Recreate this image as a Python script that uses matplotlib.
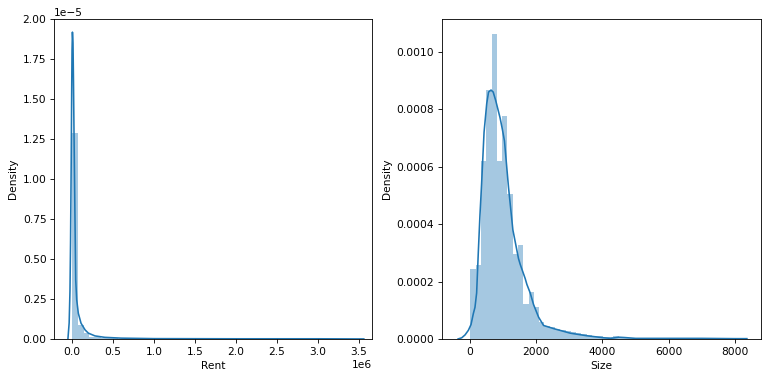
import matplotlib.pyplot as plt
import numpy as np

# Histogram of Rent (50 equal bins between the min and max value)
rent_range = (1200, 3500000)
rent_density = [1.285e-5, 8.8e-7, 3.6e-7, 1.5e-7, 1.0e-7, 6e-8, 4e-8, 3e-8, 2e-8, 2e-8,
                1e-8, 1e-8, 1e-8, 1e-8, 1e-8, 5e-9, 5e-9, 5e-9, 5e-9, 5e-9,
                3e-9, 3e-9, 3e-9, 3e-9, 3e-9, 2e-9, 2e-9, 2e-9, 2e-9, 2e-9,
                1e-9, 1e-9, 1e-9, 1e-9, 1e-9, 1e-9, 1e-9, 1e-9, 1e-9, 1e-9,
                1e-9, 1e-9, 1e-9, 1e-9, 1e-9, 1e-9, 1e-9, 1e-9, 1e-9, 1e-9]

# KDE curve of Rent
rent_kde_x = [-0.05e6, -0.035e6, -0.025e6, -0.018e6, -0.01e6, -0.004e6, 0.0, 0.005e6,
              0.012e6, 0.018e6, 0.024e6, 0.035e6, 0.045e6, 0.057e6, 0.077e6, 0.11e6,
              0.16e6, 0.2e6, 0.28e6, 0.4e6, 0.6e6, 1.0e6, 2.0e6, 3.0e6, 3.56e6]
rent_kde_y = [0.0, 0.1e-5, 0.3e-5, 0.6e-5, 1.1e-5, 1.55e-5, 1.8e-5, 1.917e-5,
              1.85e-5, 1.6e-5, 1.3e-5, 0.8e-5, 0.37e-5, 0.245e-5, 0.16e-5, 0.098e-5,
              0.056e-5, 0.036e-5, 0.019e-5, 0.01e-5, 0.005e-5, 0.002e-5, 0.001e-5, 0.001e-5, 0.0]

# Histogram of Size
size_range = (10, 8000)
size_density = [0.000244, 0.000258, 0.000619, 0.000866, 0.001062, 0.000619, 0.000776, 0.000506,
                0.000297, 0.000326, 0.000122, 0.000165, 0.000110, 0.000060, 0.000045, 0.000040,
                0.000035, 0.000030, 0.000028, 0.000025, 0.000020, 0.000018, 0.000012, 0.000010,
                0.000009, 0.000008, 0.000006, 0.000009, 0.000008, 0.000004, 0.000003, 0.000002,
                0.000001, 0.000002, 0.000001, 0.0, 0.000001, 0.000001, 0.0, 0.000001,
                0.0, 0.0, 0.000001, 0.0, 0.0, 0.000001, 0.0, 0.0, 0.0, 0.000001]

# KDE curve of Size
size_kde_x = [-360, -250, -150, -50, 30, 100, 150, 200, 250, 300, 350, 424, 505, 560, 635,
              700, 777, 908, 977, 1040, 1161, 1294, 1464, 1515, 1667, 1717, 1818, 1918, 2070,
              2221, 2524, 3030, 3535, 4040, 4242, 4495, 4650, 5000, 6000, 7000, 8000, 8360]
size_kde_y = [0.0, 0.000004, 0.000014, 0.00003, 0.00005, 0.000088, 0.00011, 0.00016, 0.0003,
              0.00043, 0.00054, 0.00072, 0.00082, 0.00086, 0.000867, 0.00086, 0.00083, 0.00077,
              0.00073, 0.00069, 0.00053, 0.00038, 0.00028, 0.00026, 0.00021, 0.00019, 0.00016,
              0.00012, 0.000076, 0.000047, 0.000036, 0.00002, 0.000011, 0.000004, 0.000002,
              0.000006, 0.000005, 0.000002, 0.000002, 0.000002, 0.000001, 0.000001]


def dist_panel(ax, value_range, density, kde_x, kde_y, label):
    """Histogram + KDE in the style of seaborn's distplot"""
    edges = np.linspace(value_range[0], value_range[1], len(density) + 1)
    ax.bar(edges[:-1], density, width=np.diff(edges), align='edge',
           color='#1f77b4', alpha=0.4, linewidth=0)
    ax.plot(kde_x, kde_y, color='#1f77b4', linewidth=1.5)
    ax.set_xlabel(label)
    ax.set_ylabel('Density')


# 10 x 4.95 inch figure saved at 76.8 dpi -> 768 x 380 px
fig = plt.figure(figsize=(10, 4.95))
ax1 = fig.add_axes([0.0703, 0.108, 0.4141, 0.842])
ax2 = fig.add_axes([0.5749, 0.108, 0.4166, 0.842])

dist_panel(ax1, rent_range, rent_density, rent_kde_x, rent_kde_y, 'Rent')
ax1.set_xlim(-0.22e6, 3.66e6)
ax1.set_ylim(0, 2.0e-5)

dist_panel(ax2, size_range, size_density, size_kde_x, size_kde_y, 'Size')
ax2.set_xlim(-860, 8800)
ax2.set_ylim(0, 0.001115)

fig.savefig('out.png', dpi=76.8)
